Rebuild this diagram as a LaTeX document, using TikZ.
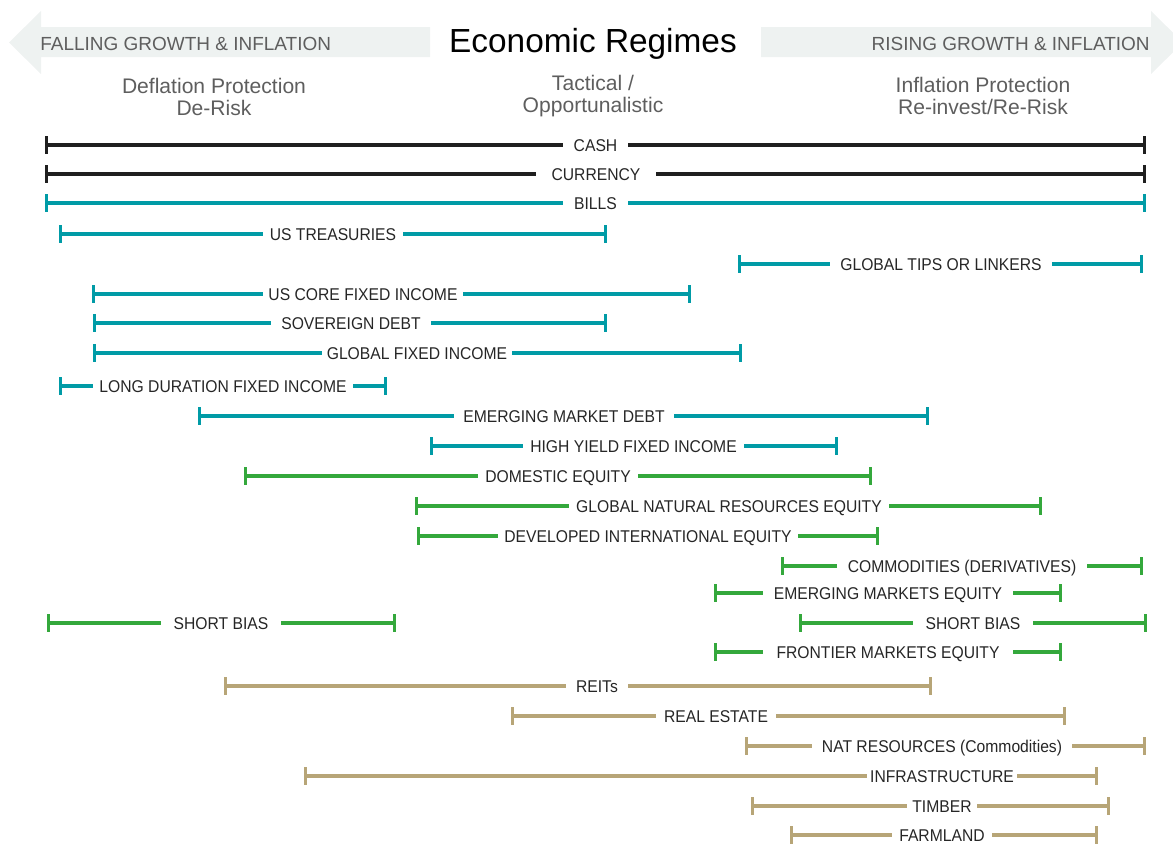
\documentclass[tikz,border=0pt]{standalone}
\usepackage{fontspec}
\setmainfont{Liberation Sans}
\newfontfamily\lblfont[FakeStretch=0.92]{Liberation Sans}
\usepackage{xcolor}
\usetikzlibrary{arrows.meta}
\definecolor{barblack}{HTML}{1F1F1F}
\definecolor{barteal}{HTML}{009BA6}
\definecolor{bargreen}{HTML}{34A83C}
\definecolor{bartan}{HTML}{B7A577}
\definecolor{lbltext}{HTML}{262626}
\definecolor{hdrgray}{HTML}{5E5E5E}
\definecolor{hdrfill}{HTML}{EEF2F1}
\tikzset{
  rng/.style={line width=2.6pt},
  bl/.style={{Bar[width=10pt,line width=1.9pt]}-},
  br/.style={-{Bar[width=10pt,line width=1.9pt]}},
  blackr/.style={rng, draw=barblack},
  tealr/.style={rng, draw=barteal},
  greenr/.style={rng, draw=bargreen},
  tanr/.style={rng, draw=bartan},
  lbl/.style={font=\lblfont\fontsize{9.7}{11}\selectfont, text=lbltext,
              inner sep=0pt, outer sep=0pt, text height=7pt, text depth=0pt},
  gap/.style={minimum width=#1*0.02cm},
  hdr/.style={font=\fontsize{10.8}{12}\selectfont, text=hdrgray, inner sep=0pt},
  sub/.style={font=\fontsize{12}{13}\selectfont, text=hdrgray, align=center, inner sep=0pt},
}

\begin{document}
\begin{tikzpicture}[x=0.02cm, y=-0.02cm]
  \useasboundingbox (0,0) rectangle (1173,843);
  % header arrows
  \fill[hdrfill] (9,42.5) -- (41,11) -- (41,27) -- (430,27) -- (430,57) -- (41,57) -- (41,74) -- cycle;
  \fill[hdrfill] (761,27) -- (1151,27) -- (1151,11) -- (1183,42.5) -- (1151,74) -- (1151,57) -- (761,57) -- cycle;
  \node[hdr, anchor=west] (fall) at (40,44) {FALLING GROWTH \& INFLATION};
  \node[hdr, anchor=east] (rise) at (1150,44) {RISING GROWTH \& INFLATION};
  \node[font=\fontsize{19}{21}\selectfont, text=black, inner sep=0pt] (title) at (593,44) {Economic Regimes};
  \node[sub] (defl) at (214,97) {Deflation Protection\\De-Risk};
  \node[sub] (tact) at (593,96) {Tactical /\\Opportunalistic};
  \node[sub] (infl) at (983,96) {Inflation Protection\\Re-invest/Re-Risk};

  % cash and currency
  \coordinate (cashL) at (45,145); \node[lbl, gap=65] (cash) at (595.5,145) {CASH}; \coordinate (cashR) at (1146,145);
  \coordinate (curL) at (45,174); \node[lbl, gap=120] (cur) at (596,174) {CURRENCY}; \coordinate (curR) at (1146,174);
  \draw[blackr, bl] (cashL) -- (cash.west); \draw[blackr, br] (cash.east) -- (cashR);
  \draw[blackr, bl] (curL) -- (cur.west); \draw[blackr, br] (cur.east) -- (curR);

  % fixed income
  \coordinate (billL) at (45,203); \node[lbl, gap=65] (bill) at (595.5,203) {BILLS}; \coordinate (billR) at (1146,203);
  \coordinate (ustL) at (59,234); \node[lbl, gap=140] (ust) at (333,234) {US TREASURIES}; \coordinate (ustR) at (607,234);
  \coordinate (tipsL) at (738,264); \node[lbl, gap=222] (tips) at (941,264) {GLOBAL TIPS OR LINKERS}; \coordinate (tipsR) at (1143,264);
  \coordinate (coreL) at (92,294); \node[lbl, gap=200] (core) at (363,294) {US CORE FIXED INCOME}; \coordinate (coreR) at (691,294);
  \coordinate (sovL) at (93,323); \node[lbl, gap=160] (sov) at (351,323) {SOVEREIGN DEBT}; \coordinate (sovR) at (607,323);
  \coordinate (gfiL) at (93,353); \node[lbl, gap=190] (gfi) at (417,353) {GLOBAL FIXED INCOME}; \coordinate (gfiR) at (742,353);
  \coordinate (ldurL) at (59,386); \node[lbl, gap=260] (ldur) at (223,386) {LONG DURATION FIXED INCOME}; \coordinate (ldurR) at (387,386);
  \coordinate (emdL) at (198,416); \node[lbl, gap=220] (emd) at (564,416) {EMERGING MARKET DEBT}; \coordinate (emdR) at (929,416);
  \coordinate (hyL) at (430,446); \node[lbl, gap=221] (hy) at (633.5,446) {HIGH YIELD FIXED INCOME}; \coordinate (hyR) at (838,446);
  \draw[tealr, bl] (billL) -- (bill.west); \draw[tealr, br] (bill.east) -- (billR);
  \draw[tealr, bl] (ustL) -- (ust.west); \draw[tealr, br] (ust.east) -- (ustR);
  \draw[tealr, bl] (tipsL) -- (tips.west); \draw[tealr, br] (tips.east) -- (tipsR);
  \draw[tealr, bl] (coreL) -- (core.west); \draw[tealr, br] (core.east) -- (coreR);
  \draw[tealr, bl] (sovL) -- (sov.west); \draw[tealr, br] (sov.east) -- (sovR);
  \draw[tealr, bl] (gfiL) -- (gfi.west); \draw[tealr, br] (gfi.east) -- (gfiR);
  \draw[tealr, bl] (ldurL) -- (ldur.west); \draw[tealr, br] (ldur.east) -- (ldurR);
  \draw[tealr, bl] (emdL) -- (emd.west); \draw[tealr, br] (emd.east) -- (emdR);
  \draw[tealr, bl] (hyL) -- (hy.west); \draw[tealr, br] (hy.east) -- (hyR);

  % equity
  \coordinate (domL) at (244,476); \node[lbl, gap=160] (dom) at (558,476) {DOMESTIC EQUITY}; \coordinate (domR) at (872,476);
  \coordinate (gnrL) at (415,506); \node[lbl, gap=320] (gnr) at (729,506) {GLOBAL NATURAL RESOURCES EQUITY}; \coordinate (gnrR) at (1042,506);
  \coordinate (devL) at (417,536); \node[lbl, gap=300] (dev) at (648,536) {DEVELOPED INTERNATIONAL EQUITY}; \coordinate (devR) at (879,536);
  \coordinate (comL) at (781,566); \node[lbl, gap=250] (com) at (962,566) {COMMODITIES (DERIVATIVES)}; \coordinate (comR) at (1143,566);
  \coordinate (emeL) at (714,593); \node[lbl, gap=250] (eme) at (888,593) {EMERGING MARKETS EQUITY}; \coordinate (emeR) at (1062,593);
  \coordinate (sbaL) at (47,623); \node[lbl, gap=120] (sba) at (221,623) {SHORT BIAS}; \coordinate (sbaR) at (396,623);
  \coordinate (sbbL) at (799,623); \node[lbl, gap=120] (sbb) at (973,623) {SHORT BIAS}; \coordinate (sbbR) at (1147,623);
  \coordinate (froL) at (714,652); \node[lbl, gap=250] (fro) at (888,652) {FRONTIER MARKETS EQUITY}; \coordinate (froR) at (1062,652);
  \draw[greenr, bl] (domL) -- (dom.west); \draw[greenr, br] (dom.east) -- (domR);
  \draw[greenr, bl] (gnrL) -- (gnr.west); \draw[greenr, br] (gnr.east) -- (gnrR);
  \draw[greenr, bl] (devL) -- (dev.west); \draw[greenr, br] (dev.east) -- (devR);
  \draw[greenr, bl] (comL) -- (com.west); \draw[greenr, br] (com.east) -- (comR);
  \draw[greenr, bl] (emeL) -- (eme.west); \draw[greenr, br] (eme.east) -- (emeR);
  \draw[greenr, bl] (sbaL) -- (sba.west); \draw[greenr, br] (sba.east) -- (sbaR);
  \draw[greenr, bl] (sbbL) -- (sbb.west); \draw[greenr, br] (sbb.east) -- (sbbR);
  \draw[greenr, bl] (froL) -- (fro.west); \draw[greenr, br] (fro.east) -- (froR);

  % real assets
  \coordinate (reitL) at (224,686); \node[lbl, gap=62] (reit) at (597,686) {REITs}; \coordinate (reitR) at (932,686);
  \coordinate (restL) at (511,716); \node[lbl, gap=120] (rest) at (716,716) {REAL ESTATE}; \coordinate (restR) at (1066,716);
  \coordinate (natL) at (745,746); \node[lbl, gap=260] (nat) at (942,746) {NAT RESOURCES (Commodities)}; \coordinate (natR) at (1146,746);
  \coordinate (infL) at (304,776); \node[lbl, gap=150] (inf) at (942,776) {INFRASTRUCTURE}; \coordinate (infR) at (1098,776);
  \coordinate (timL) at (751,806); \node[lbl, gap=70] (tim) at (942,806) {TIMBER}; \coordinate (timR) at (1110,806);
  \coordinate (farL) at (790,835); \node[lbl, gap=100] (far) at (942,835) {FARMLAND}; \coordinate (farR) at (1098,835);
  \draw[tanr, bl] (reitL) -- (reit.west); \draw[tanr, br] (reit.east) -- (reitR);
  \draw[tanr, bl] (restL) -- (rest.west); \draw[tanr, br] (rest.east) -- (restR);
  \draw[tanr, bl] (natL) -- (nat.west); \draw[tanr, br] (nat.east) -- (natR);
  \draw[tanr, bl] (infL) -- (inf.west); \draw[tanr, br] (inf.east) -- (infR);
  \draw[tanr, bl] (timL) -- (tim.west); \draw[tanr, br] (tim.east) -- (timR);
  \draw[tanr, bl] (farL) -- (far.west); \draw[tanr, br] (far.east) -- (farR);
\end{tikzpicture}
\end{document}
